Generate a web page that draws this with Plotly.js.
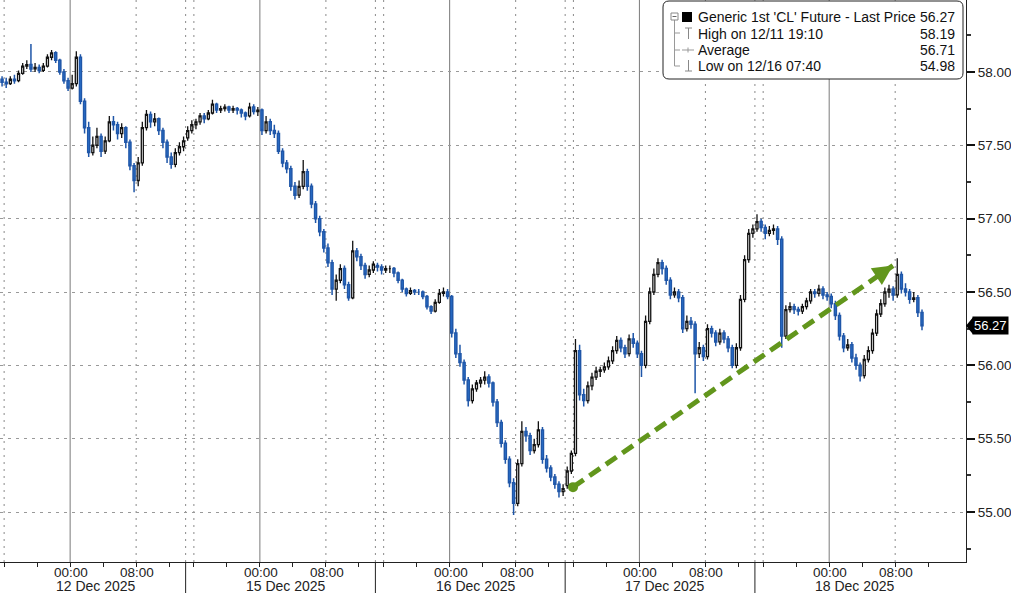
<!DOCTYPE html>
<html><head><meta charset="utf-8">
<script src="https://cdn.plot.ly/plotly-3.0.1.min.js"></script>
<style>html,body{margin:0;padding:0;background:#fff}#chart{width:1011px;height:593px}</style>
</head><body><div id="chart"></div>
<script>
// ---- sessions (30-minute bars) ----
const sessionStarts = ['2025-12-11 15:30','2025-12-14 15:00','2025-12-15 15:00','2025-12-16 15:00','2025-12-17 15:00'];
const sessionEnds   = ['2025-12-12 14:00','2025-12-15 14:00','2025-12-16 14:00','2025-12-17 14:00','2025-12-18 14:00'];
const sessionBars   = [45,46,46,46,41];

// ---- price data (Generic 1st 'CL' Future) ----
const openP = [
57.95,57.93,57.92,57.95,57.94,57.99,58.04,58.05,58.02,58.03,
58.01,58.04,58.10,58.13,58.08,58.00,57.94,57.89,57.92,58.10,
57.80,57.62,57.45,57.50,57.56,57.46,57.53,57.66,57.64,57.58,
57.62,57.52,57.36,57.26,57.38,57.62,57.71,57.66,57.68,57.60,
57.52,57.42,57.37,57.45,57.49,
57.55,57.60,57.64,57.66,57.70,
57.68,57.72,57.78,57.74,57.75,57.76,57.74,57.75,57.74,57.72,
57.70,57.76,57.73,57.74,57.60,57.66,57.60,57.58,57.46,57.38,
57.34,57.22,57.16,57.22,57.32,57.22,57.10,57.00,56.91,56.80,
56.70,56.52,56.58,56.66,56.55,56.46,56.78,56.74,56.68,56.62,
56.65,
56.68,56.67,56.65,56.66,56.66,56.63,56.58,56.52,56.49,
56.51,56.50,56.50,56.47,56.40,56.37,56.43,56.49,56.50,56.47,
56.22,56.08,56.02,55.90,55.76,55.84,55.88,55.90,55.92,55.88,
55.75,55.61,55.47,55.36,55.20,55.06,55.33,55.55,55.52,55.42,
55.46,55.56,55.36,55.30,55.24,55.19,55.14,
55.18,55.28,55.40,
56.10,55.80,55.76,55.86,55.92,55.96,55.97,55.99,56.03,56.10,
56.17,56.12,56.08,56.18,56.15,56.08,56.00,56.30,56.50,56.62,
56.70,56.66,56.58,56.48,56.50,56.46,56.25,56.30,56.28,56.08,
56.12,56.06,56.25,56.22,56.16,56.22,56.18,56.12,56.00,56.12,
56.45,56.72,56.90,
56.93,56.98,56.94,56.90,56.92,56.93,56.86,
56.20,56.38,56.40,56.38,56.37,56.40,56.44,56.50,56.49,56.52,
56.48,56.47,56.42,56.34,56.20,56.12,56.14,56.05,56.00,55.93,
56.04,56.10,56.22,56.35,56.42,56.50,56.52,56.48,56.62,56.52,
56.50,56.45,56.46,56.36];
const highP = [
57.97,57.96,57.97,57.98,58.01,58.06,58.08,58.19,58.06,58.05,
58.06,58.12,58.15,58.14,58.09,58.02,57.96,57.98,58.14,58.12,
57.82,57.66,57.56,57.62,57.58,57.56,57.70,57.70,57.66,57.65,
57.63,57.54,57.38,57.42,57.66,57.74,57.73,57.72,57.69,57.62,
57.54,57.45,57.48,57.52,57.56,
57.63,57.67,57.68,57.72,57.72,
57.74,57.81,57.79,57.77,57.78,57.77,57.77,57.76,57.75,57.73,
57.79,57.78,57.76,57.75,57.70,57.68,57.64,57.60,57.48,57.40,
57.36,57.25,57.26,57.40,57.34,57.24,57.12,57.02,56.93,56.83,
56.72,56.62,56.69,56.68,56.57,56.85,56.80,56.76,56.70,56.68,
56.71,
56.70,56.69,56.68,56.68,56.67,56.64,56.59,56.53,56.53,
56.52,56.52,56.51,56.48,56.41,56.45,56.52,56.53,56.52,56.48,
56.25,56.14,56.04,55.92,55.87,55.90,55.92,55.96,55.94,55.89,
55.77,55.63,55.49,55.38,55.23,55.36,55.62,55.58,55.54,55.50,
55.62,55.58,55.39,55.32,55.26,55.21,55.19,
55.31,55.42,56.18,
56.14,55.84,55.89,55.95,55.99,55.99,56.02,56.06,56.13,56.20,
56.19,56.14,56.21,56.22,56.17,56.10,56.34,56.53,56.66,56.73,
56.72,56.68,56.60,56.53,56.52,56.48,56.34,56.33,56.30,56.16,
56.14,56.28,56.27,56.24,56.25,56.24,56.20,56.14,56.15,56.48,
56.75,56.93,56.96,
57.03,57.00,56.96,56.95,56.96,56.95,56.88,
56.41,56.43,56.42,56.40,56.42,56.46,56.52,56.52,56.55,56.54,
56.50,56.49,56.44,56.36,56.22,56.18,56.16,56.08,56.02,56.07,
56.13,56.25,56.38,56.45,56.53,56.55,56.54,56.73,56.64,56.56,
56.52,56.50,56.48,56.38];
const lowP = [
57.90,57.89,57.91,57.92,57.93,57.98,58.02,58.00,58.00,57.99,
58.00,58.03,58.08,58.06,57.98,57.92,57.87,57.88,57.90,57.78,
57.58,57.42,57.43,57.48,57.42,57.44,57.52,57.60,57.54,57.55,
57.48,57.33,57.18,57.22,57.36,57.60,57.62,57.63,57.57,57.48,
57.38,57.34,57.35,57.43,57.46,
57.53,57.58,57.61,57.64,57.65,
57.67,57.71,57.72,57.72,57.73,57.72,57.72,57.71,57.69,57.67,
57.69,57.71,57.70,57.57,57.58,57.57,57.55,57.44,57.35,57.31,
57.19,57.13,57.14,57.20,57.19,57.07,56.97,56.88,56.77,56.67,
56.48,56.44,56.56,56.52,56.44,56.45,56.71,56.65,56.59,56.60,
56.63,
56.64,56.62,56.63,56.63,56.60,56.56,56.50,56.47,56.48,
56.48,56.48,56.45,56.38,56.35,56.36,56.42,56.47,56.45,56.19,
56.05,55.99,55.87,55.72,55.74,55.82,55.85,55.87,55.85,55.72,
55.58,55.44,55.33,55.17,54.98,55.04,55.31,55.48,55.39,55.40,
55.44,55.33,55.27,55.21,55.16,55.10,55.11,
55.16,55.26,55.38,
55.76,55.72,55.74,55.83,55.90,55.92,55.95,55.97,56.01,56.08,
56.09,56.05,56.06,56.12,56.05,55.92,55.98,56.28,56.48,56.60,
56.62,56.55,56.45,56.46,56.43,56.22,56.23,56.25,55.81,56.05,
56.03,56.04,56.19,56.13,56.14,56.15,56.09,55.98,55.98,56.10,
56.43,56.70,56.87,
56.91,56.91,56.86,56.88,56.89,56.82,56.12,
56.18,56.36,56.35,56.34,56.35,56.38,56.42,56.46,56.47,56.45,
56.44,56.39,56.31,56.17,56.09,56.10,56.02,55.97,55.89,55.91,
56.02,56.08,56.20,56.33,56.40,56.46,56.44,56.46,56.49,56.47,
56.42,56.43,56.33,56.24];
const closeP = [
57.93,57.92,57.95,57.94,57.99,58.04,58.05,58.02,58.03,58.01,
58.04,58.10,58.13,58.08,58.00,57.94,57.89,57.92,58.10,57.80,
57.62,57.45,57.50,57.56,57.46,57.53,57.66,57.64,57.58,57.62,
57.52,57.36,57.26,57.38,57.62,57.71,57.66,57.68,57.60,57.52,
57.42,57.37,57.45,57.49,57.53,
57.60,57.64,57.66,57.70,57.68,
57.72,57.78,57.74,57.75,57.76,57.74,57.75,57.74,57.72,57.70,
57.76,57.73,57.74,57.60,57.66,57.60,57.58,57.46,57.38,57.34,
57.22,57.16,57.22,57.32,57.22,57.10,57.00,56.91,56.80,56.70,
56.52,56.58,56.66,56.55,56.46,56.78,56.74,56.68,56.62,56.65,
56.69,
56.67,56.65,56.66,56.66,56.63,56.58,56.52,56.49,56.51,
56.50,56.50,56.47,56.40,56.37,56.43,56.49,56.50,56.47,56.22,
56.08,56.02,55.90,55.76,55.84,55.88,55.90,55.92,55.88,55.75,
55.61,55.47,55.36,55.20,55.06,55.33,55.55,55.52,55.42,55.46,
55.56,55.36,55.30,55.24,55.19,55.14,55.16,
55.28,55.40,56.10,
55.80,55.76,55.86,55.92,55.96,55.97,55.99,56.03,56.10,56.17,
56.12,56.08,56.18,56.15,56.08,56.00,56.30,56.50,56.62,56.70,
56.66,56.58,56.48,56.50,56.46,56.25,56.30,56.28,56.08,56.12,
56.06,56.25,56.22,56.16,56.22,56.18,56.12,56.00,56.12,56.45,
56.72,56.90,56.93,
56.98,56.94,56.90,56.92,56.93,56.86,56.20,
56.38,56.40,56.38,56.37,56.40,56.44,56.50,56.49,56.52,56.48,
56.47,56.42,56.34,56.20,56.12,56.14,56.05,56.00,55.93,56.04,
56.10,56.22,56.35,56.42,56.50,56.52,56.48,56.62,56.52,56.50,
56.45,56.46,56.36,56.27];

// legend texts
const seriesName = "Generic 1st 'CL' Future - Last Price";
const highLabel = 'High on 12/11 19:10';
const lowLabel = 'Low on 12/16 07:40';
const averageValue = 56.71;
const monthNames = ['Jan','Feb','Mar','Apr','May','Jun','Jul','Aug','Sep','Oct','Nov','Dec'];

// trend arrow (annotation)
const arrowStart = {t:'2025-12-16 15:57', p:55.17};
const arrowEnd   = {t:'2025-12-18 07:44', p:56.68};

// ---- helpers ----
const MIN = 60000, HOUR = 3600000;
function ms(s){ return Date.parse(s.replace(' ','T') + ':00Z'); }
function fmt(t){ return new Date(t).toISOString().slice(0,16).replace('T',' '); }

const times = [];
sessionStarts.forEach((s,i)=>{
  const t0 = ms(s);
  for(let k=0;k<sessionBars[i];k++) times.push(fmt(t0 + k*30*MIN + 15*MIN));
});
const lastBarEnd = ms(sessionStarts[4]) + sessionBars[4]*30*MIN;

const tickvals=[], shapes=[], annotations=[];
const PW=966, PH=562;
const px = x => x/PW, py = y => 1 - y/PH;
const FONT = '"Liberation Sans", Arial, sans-serif';

sessionStarts.forEach((s,i)=>{
  const t0 = ms(s), t1 = ms(sessionEnds[i]);
  let t = Math.ceil(t0/(4*HOUR))*4*HOUR;
  for(; t<t1 && t<=lastBarEnd+HOUR; t+=4*HOUR){
    const d = new Date(t), h = d.getUTCHours();
    tickvals.push(fmt(t));
    if(h===0 || h===8){
      annotations.push({xref:'x',yref:'paper',x:fmt(t),y:py(572),xanchor:'center',yanchor:'middle',xshift:1,showarrow:false,
        text:h===0?'00:00':'08:00',font:{size:13.5,color:'#222'}});
    }
    if(t>lastBarEnd) continue;
    if(h===0){
      shapes.push({type:'line',xref:'x',yref:'paper',x0:fmt(t),x1:fmt(t),y0:0,y1:1,line:{color:'#7a7a7a',width:1},layer:'below'});
      annotations.push({xref:'x',yref:'paper',x:fmt(t),y:py(586),xanchor:'left',yanchor:'middle',xshift:-16,showarrow:false,
        text:d.getUTCDate()+' '+monthNames[d.getUTCMonth()]+' '+d.getUTCFullYear(),font:{size:14,color:'#222'}});
    } else if(h===8 || h===16){
      shapes.push({type:'line',xref:'x',yref:'paper',x0:fmt(t),x1:fmt(t),y0:0,y1:1,line:{color:'#8a8a8a',width:1,dash:'2px,5px'},layer:'below'});
    }
  }
  if(i<4){
    const e = sessionEnds[i];
    shapes.push({type:'line',xref:'x',yref:'paper',x0:e,x1:e,y0:0,y1:1,line:{color:'#8a8a8a',width:1,dash:'2px,5px'},layer:'below'});
    shapes.push({type:'line',xref:'x',yref:'paper',x0:e,x1:e,y0:0,y1:py(593),line:{color:'#222',width:1}});
  }
});

// trend arrow
shapes.push({type:'line',xref:'x',yref:'y',x0:arrowStart.t,y0:arrowStart.p,x1:arrowEnd.t,y1:arrowEnd.p,
  line:{color:'#62961c',width:5,dash:'13px,7px'}});
shapes.push({type:'circle',xref:'x',yref:'y',xsizemode:'pixel',ysizemode:'pixel',xanchor:arrowStart.t,yanchor:arrowStart.p,
  x0:-5,x1:5,y0:-5,y1:5,fillcolor:'#62961c',line:{width:0}});
annotations.push({xref:'x',yref:'y',x:arrowEnd.t,y:arrowEnd.p,ax:-12,ay:8,showarrow:true,arrowhead:2,arrowsize:0.8,arrowwidth:5,arrowcolor:'#62961c',text:'',standoff:0});

// last price tag
const last = closeP[closeP.length-1];
shapes.push({type:'path',xref:'paper',yref:'y',path:`M 1,${last} L ${px(973)},${last+0.058} L ${px(973)},${last-0.058} Z`,fillcolor:'#000',line:{width:0}});
annotations.push({xref:'paper',yref:'y',x:px(972),y:last,xanchor:'left',yanchor:'middle',showarrow:false,text:last.toFixed(2),
  font:{size:13,color:'#fff'},bgcolor:'#000',borderpad:1});

// legend box (rounded)
(function(){
  const L=663,T=1,R=963,B=79,r=6;
  const p=(x,y)=>`${px(x)},${py(y)}`;
  shapes.push({type:'path',xref:'paper',yref:'paper',layer:'above',fillcolor:'#fff',line:{color:'#222',width:1},
    path:`M ${p(L+r,T)} L ${p(R-r,T)} Q ${p(R,T)} ${p(R,T+r)} L ${p(R,B-r)} Q ${p(R,B)} ${p(R-r,B)} L ${p(L+r,B)} Q ${p(L,B)} ${p(L,B-r)} L ${p(L,T+r)} Q ${p(L,T)} ${p(L+r,T)} Z`});
  const ln=(x0,y0,x1,y1,c,w)=>shapes.push({type:'line',xref:'paper',yref:'paper',layer:'above',x0:px(x0),y0:py(y0),x1:px(x1),y1:py(y1),line:{color:c||'#999',width:w||1}});
  ln(674.5,20,674.5,66); ln(674.5,33,680,33); ln(674.5,50,680,50); ln(674.5,66,680,66);
  shapes.push({type:'rect',xref:'paper',yref:'paper',layer:'above',x0:px(671),x1:px(678),y0:py(13),y1:py(20),fillcolor:'#fff',line:{color:'#888',width:1}});
  ln(672.5,16.5,676.5,16.5,'#666');
  shapes.push({type:'rect',xref:'paper',yref:'paper',layer:'above',x0:px(682),x1:px(692),y0:py(12),y1:py(22),fillcolor:'#000',line:{width:0}});
  ln(685,28,692,28,'#888'); ln(688.5,28,688.5,39,'#888');
  ln(682,50,694,50,'#999'); ln(688,47.5,688,52.5,'#999');
  ln(685,71,692,71,'#888'); ln(688.5,60,688.5,71,'#888');
  const rows=[[seriesName,last.toFixed(2),17],[highLabel,Math.max(...highP).toFixed(2),33.5],['Average',averageValue.toFixed(2),50],[lowLabel,Math.min(...lowP).toFixed(2),66]];
  rows.forEach(r=>{
    annotations.push({xref:'paper',yref:'paper',x:px(696),y:py(r[2]),xanchor:'left',yanchor:'middle',showarrow:false,text:r[0],font:{size:14,color:'#111'}});
    annotations.push({xref:'paper',yref:'paper',x:px(957),y:py(r[2]),xanchor:'right',yanchor:'middle',showarrow:false,text:r[1],font:{size:14,color:'#111'}});
  });
})();

const trace = {
  type:'candlestick', x:times, open:openP, high:highP, low:lowP, close:closeP,
  increasing:{line:{color:'#111',width:1.3},fillcolor:'#ffffff'},
  decreasing:{line:{color:'#1f56a8',width:1.5},fillcolor:'#2f7ad6'},
  whiskerwidth:0, hoverinfo:'skip'
};

const layout = {
  width:1011, height:593,
  margin:{l:0,r:45,t:0,b:31,pad:0},
  paper_bgcolor:'#fff', plot_bgcolor:'#fff', showlegend:false,
  font:{family:FONT, size:13, color:'#111'},
  xaxis:{type:'date', range:['2025-12-11 15:30','2025-12-18 17:35'],
    rangebreaks:[{bounds:['2025-12-12 14:00','2025-12-14 15:00']},{pattern:'hour',bounds:[14,15]}],
    tickmode:'array', tickvals:tickvals, showticklabels:false, ticks:'outside', ticklen:4, tickcolor:'#222',
    showgrid:false, showline:true, linecolor:'#222', linewidth:1, zeroline:false,
    rangeslider:{visible:false}, fixedrange:true},
  yaxis:{side:'right', range:[54.66,58.49], tick0:55, dtick:0.5, tickformat:'.2f',
    ticks:'outside', ticklen:8, tickwidth:2, tickcolor:'#111',
    showgrid:true, gridcolor:'#999', griddash:'3px,5px', gridwidth:1,
    showline:true, linecolor:'#222', linewidth:1, zeroline:false, fixedrange:true,
    tickfont:{size:13.5,color:'#222'},
    minor:{dtick:0.25, tick0:55, ticks:'outside', ticklen:4, tickcolor:'#333', showgrid:false}},
  shapes:shapes, annotations:annotations
};

Plotly.newPlot('chart',[trace],layout,{displayModeBar:false,staticPlot:true});
</script>
</body></html>
